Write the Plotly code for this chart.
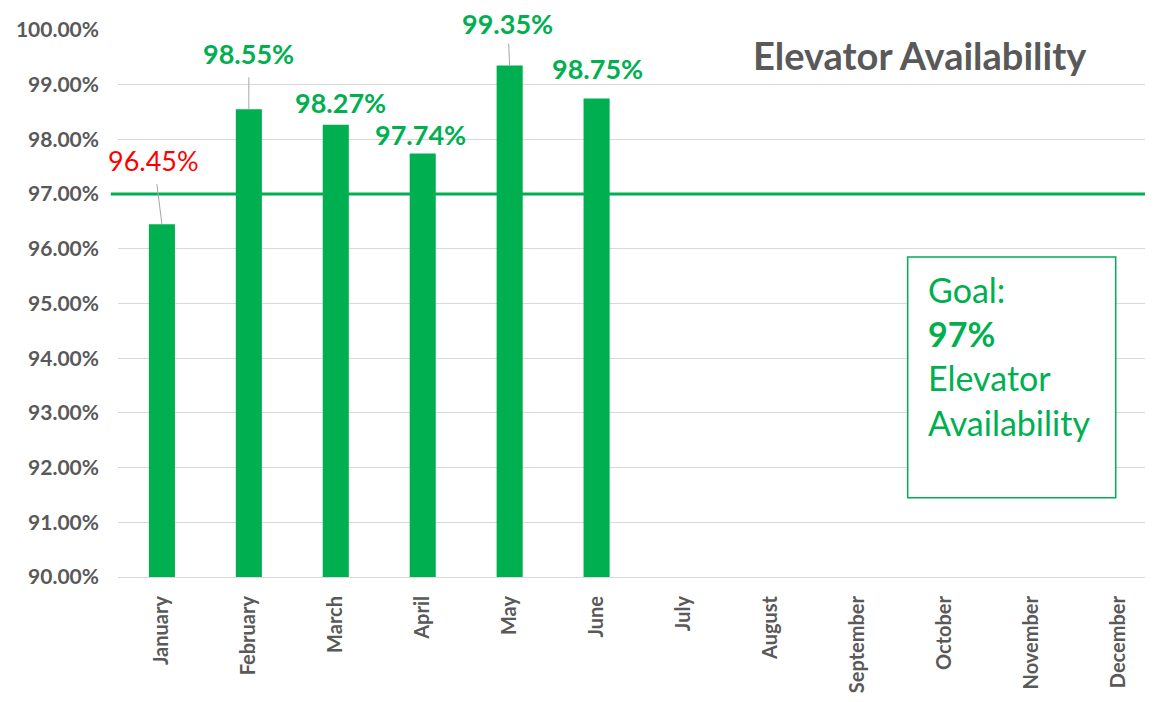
import plotly.graph_objects as go

months = ["January", "February", "March", "April", "May", "June",
          "July", "August", "September", "October", "November", "December"]
availability = [0.9645, 0.9855, 0.9827, 0.9774, 0.9935, 0.9875]
goal = 0.97
y_ticks = [0.90, 0.91, 0.92, 0.93, 0.94, 0.95, 0.96, 0.97, 0.98, 0.99, 1.00]
# label offsets (pixels) from bar top and whether a leader line is drawn
label_dx = [-8, 0, 5, -2, -2, 1]
label_dy = [-64, -56, -22, -19, -42, -30]
label_pad = [7, 7, 7, 7, 3, 7]
leader = [True, True, False, False, True, False]

GREEN = "#00B050"
GRAY = "#595959"
FONT = "Lato"

fig = go.Figure()
fig.add_trace(go.Bar(x=months[:len(availability)], y=availability,
                     marker=dict(color=GREEN, line=dict(width=0)),
                     width=0.3, hoverinfo="skip"))

# goal line across plot
fig.add_shape(type="line", xref="paper", yref="y", x0=-0.007, x1=0.995,
              y0=goal, y1=goal, line=dict(color=GREEN, width=3), layer="above")

for i, v in enumerate(availability):
    color = "#FF0000" if v < goal else GREEN
    txt = f"{v*100:.2f}%" if v < goal else f"<b>{v*100:.2f}%</b>"
    fig.add_annotation(x=months[i], y=v, text=txt,
                       showarrow=True, arrowhead=0, arrowwidth=1,
                       arrowcolor="#A6A6A6" if leader[i] else "rgba(0,0,0,0)",
                       ax=label_dx[i], ay=label_dy[i], borderpad=label_pad[i],
                       font=dict(family=FONT, size=27, color=color))

fig.add_annotation(xref="paper", yref="paper", x=0.775, y=0.954,
                   xanchor="center", yanchor="middle",
                   text="<b>Elevator Availability</b>", showarrow=False,
                   font=dict(family=FONT, size=38, color=GRAY))

fig.add_shape(type="rect", xref="paper", yref="paper", x0=0.763, x1=0.964,
              y0=0.145, y1=0.585, line=dict(color=GREEN, width=1.5),
              fillcolor="white", layer="above")
fig.add_annotation(xref="paper", yref="paper", x=0.781, y=0.567,
                   xanchor="left", yanchor="top", align="left",
                   text="Goal:<br><b>97%</b><br>Elevator<br>Availability",
                   showarrow=False,
                   font=dict(family=FONT, size=34, color=GREEN))

fig.update_layout(
    width=1153, height=702,
    margin=dict(l=108, r=8, t=19, b=133),
    plot_bgcolor="white", paper_bgcolor="white",
    showlegend=False, bargap=0.7,
    font=dict(family=FONT, color=GRAY),
    xaxis=dict(categoryorder="array", categoryarray=months,
               tickmode="array", tickvals=months, ticktext=months,
               range=[-0.505, 11.40], tickangle=-90,
               tickfont=dict(family=FONT, size=20, color=GRAY, weight="bold"),
               showline=True, linecolor="#D9D9D9", linewidth=1,
               showgrid=False, ticks="", ticklabelstandoff=10),
    yaxis=dict(range=[0.90, 1.00], tickvals=y_ticks, tickformat=".2%",
               tickfont=dict(family=FONT, size=21, color=GRAY, weight="bold"),
               showgrid=True, gridcolor="#D9D9D9", gridwidth=1,
               zeroline=False, ticks="", ticklabelstandoff=18),
)

fig.write_html("out.html")
